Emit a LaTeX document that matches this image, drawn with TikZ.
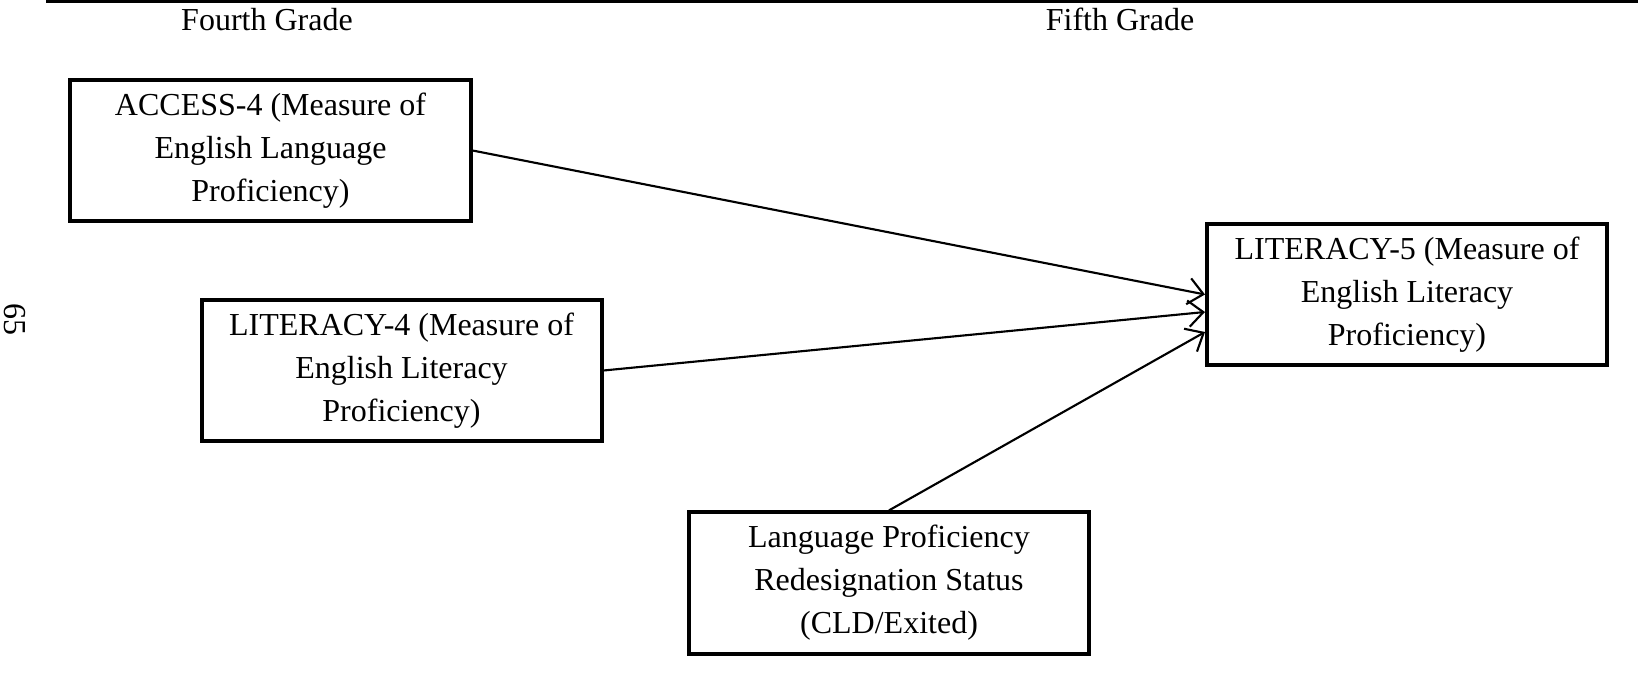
\documentclass[tikz,border=0pt]{standalone}
\usepackage{fontspec}
\setmainfont{Liberation Serif}
\usetikzlibrary{arrows.meta}
\begin{document}
\begin{tikzpicture}[x=0.4pt, y=-0.4pt, font=\fontsize{12.8}{17.2}\selectfont]
	\tikzset{>={Straight Barb[length=6pt,width=10.5pt]}}
	\tikzset{varbox/.style={draw, line width=1.6pt, minimum width=160pt, minimum height=56.5pt, align=center, inner sep=0pt}}
	\useasboundingbox (0,0) rectangle (1638,691);
	\draw[line width=1.3pt] (46,1.5) -- (1638,1.5);
	\node[anchor=base, inner sep=0pt] (fourth) at (267,31) {Fourth Grade};
	\node[anchor=base, inner sep=0pt] (fifth) at (1120,31) {Fifth Grade};
	\node[rotate=-90, inner sep=0pt] (page) at (15,320) {65};
	\node[varbox] (access4) at (270.5,150.5) {ACCESS-4 (Measure of\\English Language\\Proficiency)};
	\node[varbox] (lit4) at (401.5,370.5) {LITERACY-4 (Measure of\\English Literacy\\Proficiency)};
	\node[varbox] (status) at (889,583) {Language Proficiency\\Redesignation Status\\(CLD/Exited)};
	\node[varbox] (lit5) at (1407,294.5) {LITERACY-5 (Measure of\\English Literacy\\Proficiency)};
	\draw[->, line width=0.85pt] (access4.east) -- (lit5.west);
	\draw[->, line width=0.85pt] (lit4.east) -- ([yshift=-7pt]lit5.west);
	\draw[->, line width=0.85pt] (status.north) -- ([yshift=-15pt]lit5.west);
\end{tikzpicture}
\end{document}
